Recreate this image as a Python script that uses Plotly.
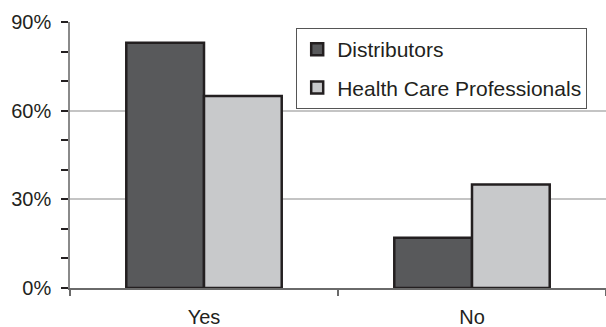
import plotly.graph_objects as go

# Survey answers: share of respondents (%) per answer
answers = ["Yes", "No"]
distributors = [83, 17]
health_care_professionals = [65, 35]

series_names = ["Distributors", "Health Care Professionals"]
fill_colors = ["#58595b", "#c8c9cb"]
outline = "#231f20"
font_family = "Arial, Liberation Sans, Helvetica, sans-serif"

fig = go.Figure()
for name, values, color in zip(series_names,
                               [distributors, health_care_professionals],
                               fill_colors):
    fig.add_trace(go.Bar(
        x=answers,
        y=values,
        name=name,
        legendgroup=name,
        marker=dict(color=color, line=dict(color=outline, width=2.5)),
    ))

fig.update_layout(
    width=606,
    height=327,
    margin=dict(l=70, r=0, t=22, b=39),
    paper_bgcolor="white",
    plot_bgcolor="white",
    barmode="group",
    bargap=0.42,
    bargroupgap=0,
    font=dict(family=font_family, size=20, color=outline),
    showlegend=True,
    legend=dict(
        x=0.422,
        y=0.977,
        xref="paper",
        yref="paper",
        xanchor="left",
        yanchor="top",
        bordercolor="#555555",
        borderwidth=1,
        bgcolor="white",
        font=dict(family=font_family, size=21, color=outline),
        tracegroupgap=8,
        traceorder="grouped",
    ),
)

fig.update_yaxes(
    range=[0, 90],
    tickvals=[0, 30, 60, 90],
    ticktext=["0%", "30%", "60%", "90%"],
    ticks="outside",
    ticklen=7,
    tickwidth=1.5,
    tickcolor="#231f20",
    ticklabelstandoff=6,
    minor=dict(dtick=10, tick0=0, ticks="outside", ticklen=7,
               tickwidth=1.5, tickcolor="#231f20", showgrid=False),
    showgrid=True,
    gridcolor="#c4c4c4",
    gridwidth=1.5,
    showline=True,
    linecolor="#8a8a8a",
    linewidth=1.5,
    zeroline=False,
    automargin=False,
    fixedrange=True,
)

fig.update_xaxes(
    type="category",
    range=[-0.5, 1.5],
    tickson="boundaries",
    ticks="outside",
    ticklen=6,
    tickwidth=1.5,
    tickcolor="#6a6a6a",
    ticklabelstandoff=10,
    showline=True,
    linecolor="#6a6a6a",
    linewidth=1.5,
    showgrid=False,
    automargin=False,
    fixedrange=True,
)

fig.write_html("out.html")
